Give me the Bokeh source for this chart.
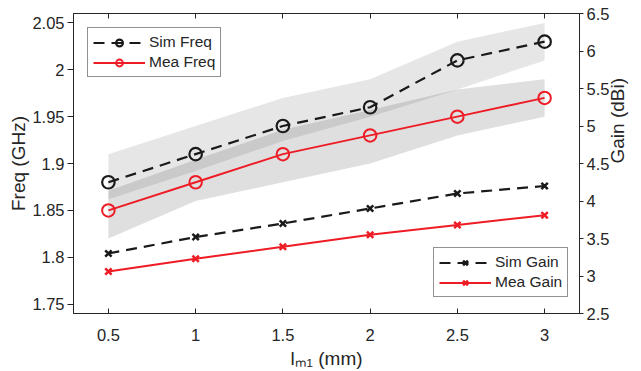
import math
from bokeh.plotting import figure
from bokeh.models import (Range1d, LinearAxis, Legend, LegendItem,
                          FixedTicker)
from bokeh.embed import file_html
from bokeh.resources import INLINE

# ---------------- data ----------------
x_mm = [0.5, 1.0, 1.5, 2.0, 2.5, 3.0]
sim_freq = [1.88, 1.91, 1.94, 1.96, 2.01, 2.03]
mea_freq = [1.85, 1.88, 1.91, 1.93, 1.95, 1.97]
sim_freq_hi = [1.91, 1.94, 1.97, 1.99, 2.03, 2.05]
sim_freq_lo = [1.862, 1.892, 1.924, 1.95, 1.979, 2.01]
mea_freq_hi = [1.871, 1.904, 1.936, 1.957, 1.979, 1.99]
mea_freq_lo = [1.82, 1.86, 1.88, 1.90, 1.93, 1.95]
sim_gain = [3.30, 3.52, 3.70, 3.90, 4.10, 4.20]
mea_gain = [3.06, 3.23, 3.39, 3.55, 3.68, 3.81]

x_ticks = [0.5, 1.0, 1.5, 2.0, 2.5, 3.0]
x_tick_labels = ["0.5", "1", "1.5", "2", "2.5", "3"]
freq_ticks = [1.75, 1.8, 1.85, 1.9, 1.95, 2.0, 2.05]
freq_tick_labels = ["1.75", "1.8", "1.85", "1.9", "1.95", "2", "2.05"]
gain_ticks = [2.5, 3.0, 3.5, 4.0, 4.5, 5.0, 5.5, 6.0, 6.5]
gain_tick_labels = ["2.5", "3", "3.5", "4", "4.5", "5", "5.5", "6", "6.5"]

x_title = "l\u2098\u2081 (mm)"
y_title = "Freq (GHz)"
y2_title = "Gain (dBi)"

# ---------------- style ----------------
FONT = "Liberation Sans"
AX = "#262626"
RED = "#ee1c25"
BLK = "#1a1a1a"
TICK_FS = "16.5px"
LAB_FS = "19px"
LEG_FS = "15.5px"

p = figure(width=641, height=371, x_range=Range1d(0.3, 3.2),
           y_range=Range1d(1.74, 2.06), output_backend="svg",
           toolbar_location=None, min_border_left=73, min_border_right=59,
           min_border_top=13, min_border_bottom=56)
p.extra_y_ranges = {"gain": Range1d(2.5, 6.5)}
p.xgrid.visible = False
p.ygrid.visible = False
p.outline_line_color = AX
p.background_fill_color = "white"
p.border_fill_color = "white"

def style_axis(ax, ticks, labels, tin, tout):
    ax.ticker = FixedTicker(ticks=ticks)
    ax.major_label_overrides = {t: l for t, l in zip(ticks, labels)}
    ax.major_tick_in = tin
    ax.major_tick_out = tout
    ax.minor_tick_line_color = None
    ax.axis_line_color = AX
    ax.major_tick_line_color = AX
    ax.major_label_text_color = AX
    ax.major_label_text_font = FONT
    ax.major_label_text_font_size = TICK_FS
    ax.axis_label_text_font = FONT
    ax.axis_label_text_font_size = LAB_FS
    ax.axis_label_text_font_style = "normal"
    ax.axis_label_text_color = AX

xa = p.xaxis[0]
style_axis(xa, x_ticks, x_tick_labels, 5, 0)
xa.major_label_standoff = 15
xa.axis_label = x_title
xa.axis_label_standoff = 4

ya = p.yaxis[0]
style_axis(ya, freq_ticks, freq_tick_labels, 0, 6)
ya.major_label_standoff = 3
ya.axis_label = y_title
ya.axis_label_standoff = 0

ra = LinearAxis(y_range_name="gain")
style_axis(ra, gain_ticks, gain_tick_labels, 0, 4)
ra.major_label_standoff = 3
ra.axis_label = y2_title
ra.axis_label_orientation = math.pi / 2
ra.axis_label_standoff = 5
p.add_layout(ra, "right")

ta = LinearAxis()
style_axis(ta, x_ticks, [""] * len(x_ticks), 5, 0)
ta.major_label_text_font_size = "0px"
ta.major_label_standoff = 0
p.add_layout(ta, "above")

# ---------------- bands ----------------
p.varea(x=x_mm, y1=sim_freq_lo, y2=sim_freq_hi, fill_color="#3a3a3a",
        fill_alpha=0.125)
p.varea(x=x_mm, y1=mea_freq_lo, y2=mea_freq_hi, fill_color="#3a3a3a",
        fill_alpha=0.16)

# ---------------- series ----------------
DASH = "11 7"
l_sf = p.line(x_mm, sim_freq, line_color=BLK, line_width=2.2, line_dash=DASH)
m_sf = p.scatter(x_mm, sim_freq, marker="circle", size=12.5, line_color=BLK,
                 line_width=2.2, fill_alpha=0)
l_mf = p.line(x_mm, mea_freq, line_color=RED, line_width=2)
m_mf = p.scatter(x_mm, mea_freq, marker="circle", size=12.5, line_color=RED,
                 line_width=2, fill_alpha=0)
l_sg = p.line(x_mm, sim_gain, line_color=BLK, line_width=2.2, line_dash=DASH,
              y_range_name="gain")
m_sg = p.scatter(x_mm, sim_gain, marker="x", size=9, line_color=BLK,
                 line_width=2.5, y_range_name="gain")
l_mg = p.line(x_mm, mea_gain, line_color=RED, line_width=2,
              y_range_name="gain")
m_mg = p.scatter(x_mm, mea_gain, marker="x", size=9, line_color=RED,
                 line_width=2.5, y_range_name="gain")

def make_legend(items, loc):
    lg = Legend(items=items, location=loc, orientation="vertical")
    lg.border_line_color = AX
    lg.border_line_width = 1
    lg.background_fill_color = "white"
    lg.background_fill_alpha = 1
    lg.label_text_font = FONT
    lg.label_text_font_size = LEG_FS
    lg.label_text_color = AX
    lg.glyph_width = 52
    lg.glyph_height = 17
    lg.label_height = 17
    lg.label_width = 66
    lg.label_standoff = 4
    lg.padding = 5
    lg.spacing = 2
    lg.margin = 0
    return lg

leg1 = make_legend([LegendItem(label="Sim Freq", renderers=[l_sf, m_sf]),
                    LegendItem(label="Mea Freq", renderers=[l_mf, m_mf])],
                   (14, 236))
leg2 = make_legend([LegendItem(label="Sim Gain", renderers=[l_sg, m_sg]),
                    LegendItem(label="Mea Gain", renderers=[l_mg, m_mg])],
                   (360, 16))
p.add_layout(leg1)
p.add_layout(leg2)

open("out.html", "w").write(file_html(p, INLINE))
